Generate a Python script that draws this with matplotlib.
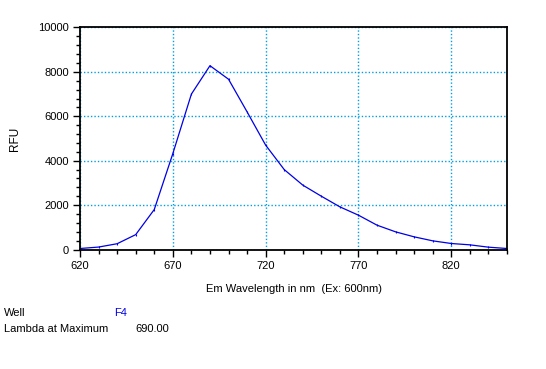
import numpy as np
import matplotlib.pyplot as plt
from matplotlib.ticker import MultipleLocator

# emission scan, 10 nm steps
wavelength = [620, 630, 640, 650, 660, 670, 680, 690, 700, 710, 720, 730,
              740, 750, 760, 770, 780, 790, 800, 810, 820, 830, 840, 850]
rfu = [45, 110, 260, 670, 1800, 4320, 7000, 8280, 7670, 6200, 4700, 3600,
       2900, 2400, 1920, 1545, 1095, 795, 570, 390, 270, 210, 105, 45]

x_ticks = [620, 670, 720, 770, 820]
y_ticks = [0, 2000, 4000, 6000, 8000, 10000]

plt.rcParams['font.family'] = ['Liberation Sans', 'DejaVu Sans']
plt.rcParams['font.size'] = 8

fig = plt.figure(figsize=(5.46, 3.69), dpi=100)
ax = fig.add_axes([80/546, 1 - 249.5/369, 427/546, 222/369])

ax.plot(wavelength, rfu, color='#0000e6', lw=0.9, marker='|', ms=2, mew=0.8)

ax.set_xlim(620, 850)
ax.set_ylim(0, 10000)
ax.set_xticks(x_ticks)
ax.set_yticks(y_ticks)
ax.xaxis.set_minor_locator(MultipleLocator(10))
ax.yaxis.set_minor_locator(MultipleLocator(400))
ax.tick_params(which='major', length=5, width=1, direction='out', pad=3)
ax.tick_params(which='minor', length=3, width=1, direction='out')

ax.grid(True, which='major', color='#00a0e0', ls=(0, (1, 1.5)), lw=1)
for s in ax.spines.values():
    s.set_linewidth(1.3)
    s.set_color('black')

ax.set_xlabel('Em Wavelength in nm  (Ex: 600nm)', labelpad=10)
ax.set_ylabel('RFU', labelpad=12, fontsize=8.5)

fig.text(4/546, 1 - 313/369, 'Well', va='center', ha='left')
fig.text(114/546, 1 - 313/369, 'F4', va='center', ha='left', color='#0000e6')
fig.text(4/546, 1 - 329/369, 'Lambda at Maximum', va='center', ha='left')
fig.text(135/546, 1 - 329/369, '690.00', va='center', ha='left')

fig.savefig('out.png', dpi=100)
